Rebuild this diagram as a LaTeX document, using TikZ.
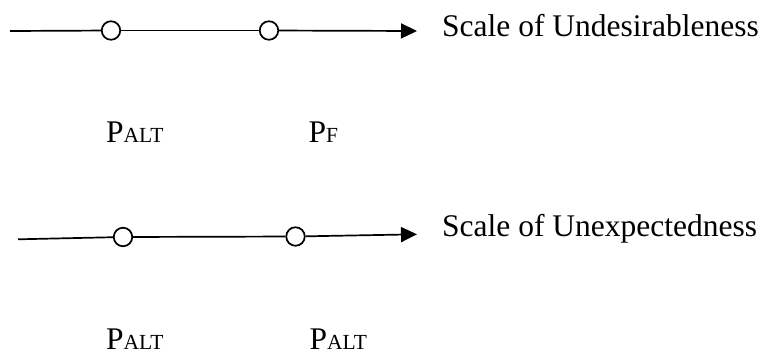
\documentclass[tikz,border=0pt]{standalone}
\usepackage{fontspec}
\setmainfont{Liberation Serif}
\usetikzlibrary{arrows.meta}
\tikzset{
  dot/.style={circle,draw,fill=white,line width=1.7pt,minimum size=18.5pt,inner sep=0pt},
  axisline/.style={line width=1.7pt},
  axisarrow/.style={line width=1.7pt,-{Triangle[length=16pt,width=15pt]}},
  scaletext/.style={anchor=base west,inner sep=0pt,font=\fontsize{31.5}{36}\selectfont},
  plabel/.style={anchor=base west,inner sep=0pt,font=\fontsize{31.5}{36}\selectfont}
}
\newcommand{\smc}[1]{{\fontsize{21.5}{24}\selectfont #1}}
\begin{document}
\begin{tikzpicture}[x=1pt,y=-1pt]
\useasboundingbox (0,0) rectangle (766,354);
% top scale
\coordinate (s1) at (10,31);
\node[dot] (c1) at (111,30.5) {};
\node[dot] (c2) at (269,30.5) {};
\coordinate (e1) at (417,31);
\draw[axisline] (s1) -- (c1);
\draw[axisline] (c1) -- (c2);
\draw[axisarrow] (c2) -- (e1);
\node[scaletext] (t1) at (442,36.7) {Scale of Undesirableness};
\node[plabel] (l1) at (106,142.3) {P\smc{ALT}};
\node[plabel] (l2) at (308.5,142.3) {P\smc{F}};
% bottom scale
\coordinate (s2) at (18,239.3);
\node[dot] (c3) at (123,237) {};
\node[dot] (c4) at (295.5,236.5) {};
\coordinate (e2) at (417,234.3);
\draw[axisline] (s2) -- (c3);
\draw[axisline] (c3) -- (c4);
\draw[axisarrow] (c4) -- (e2);
\node[scaletext] (t2) at (442,236.5) {Scale of Unexpectedness};
\node[plabel] (l3) at (106,349.5) {P\smc{ALT}};
\node[plabel] (l4) at (309.5,349.5) {P\smc{ALT}};
\end{tikzpicture}
\end{document}
